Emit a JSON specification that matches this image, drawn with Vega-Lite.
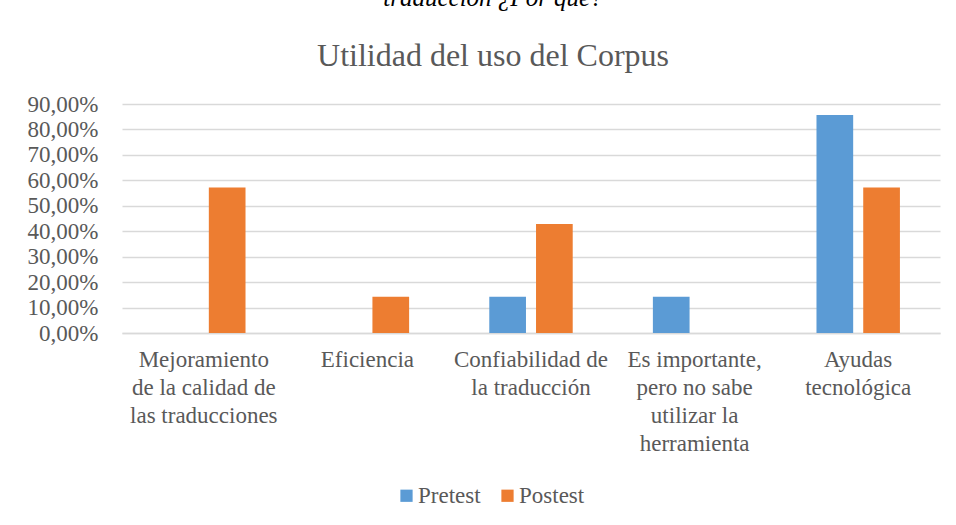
{
  "$schema": "https://vega.github.io/schema/vega-lite/v6.json",
  "width": 818,
  "height": 229,
  "autosize": {"type": "none"},
  "padding": {"left": 122, "top": 104, "right": 16, "bottom": 192},
  "background": "#ffffff",
  "title": {
    "text": "traducción ¿Por qué?",
    "subtitle": "Utilidad del uso del Corpus",
    "font": "Liberation Serif",
    "fontSize": 25,
    "fontStyle": "italic",
    "fontWeight": "normal",
    "color": "#000000",
    "subtitleFont": "Liberation Serif",
    "subtitleFontSize": 32,
    "subtitleColor": "#595959",
    "subtitlePadding": 30,
    "anchor": "middle",
    "frame": "group",
    "dx": -38,
    "offset": 21
  },
  "data": {
    "values": [
      {"categoria": "Mejoramiento de la calidad de las traducciones", "grupo": "Pretest", "valor": 0},
      {"categoria": "Mejoramiento de la calidad de las traducciones", "grupo": "Postest", "valor": 0.5714},
      {"categoria": "Eficiencia", "grupo": "Pretest", "valor": 0},
      {"categoria": "Eficiencia", "grupo": "Postest", "valor": 0.1429},
      {"categoria": "Confiabilidad de la traducción", "grupo": "Pretest", "valor": 0.1429},
      {"categoria": "Confiabilidad de la traducción", "grupo": "Postest", "valor": 0.4286},
      {"categoria": "Es importante, pero no sabe utilizar la herramienta", "grupo": "Pretest", "valor": 0.1429},
      {"categoria": "Es importante, pero no sabe utilizar la herramienta", "grupo": "Postest", "valor": 0},
      {"categoria": "Ayudas tecnológica", "grupo": "Pretest", "valor": 0.8571},
      {"categoria": "Ayudas tecnológica", "grupo": "Postest", "valor": 0.5714}
    ]
  },
  "mark": {"type": "bar"},
  "encoding": {
    "x": {
      "field": "categoria",
      "type": "nominal",
      "sort": null,
      "title": null,
      "scale": {"paddingInner": 0.49, "paddingOuter": 0.245},
      "axis": {
        "labelAngle": 0,
        "labelBaseline": "top",
        "labelPadding": 15,
        "labelLineHeight": 28,
        "labelLimit": 0,
        "ticks": false,
        "domainColor": "#D9D9D9",
        "domainWidth": 1.3,
        "labelExpr": "datum.value == 'Mejoramiento de la calidad de las traducciones' ? ['Mejoramiento', 'de la calidad de', 'las traducciones'] : datum.value == 'Confiabilidad de la traducción' ? ['Confiabilidad de', 'la traducción'] : datum.value == 'Es importante, pero no sabe utilizar la herramienta' ? ['Es importante,', 'pero no sabe', 'utilizar la', 'herramienta'] : datum.value == 'Ayudas tecnológica' ? ['Ayudas', 'tecnológica'] : datum.value"
      }
    },
    "xOffset": {
      "field": "grupo",
      "sort": ["Pretest", "Postest"],
      "scale": {"paddingInner": 0.215, "paddingOuter": 0}
    },
    "y": {
      "field": "valor",
      "type": "quantitative",
      "title": null,
      "scale": {"domain": [0, 0.9], "nice": false},
      "axis": {
        "values": [0, 0.1, 0.2, 0.3, 0.4, 0.5, 0.6, 0.7, 0.8, 0.9],
        "labelExpr": "replace(format(datum.value, '.2%'), '.', ',')",
        "domain": false,
        "ticks": false,
        "labelPadding": 24,
        "grid": true,
        "gridColor": "#D9D9D9",
        "gridWidth": 1.3
      }
    },
    "color": {
      "field": "grupo",
      "type": "nominal",
      "sort": ["Pretest", "Postest"],
      "scale": {"domain": ["Pretest", "Postest"], "range": ["#5B9BD5", "#ED7D31"]},
      "legend": {
        "title": null,
        "orient": "none",
        "direction": "horizontal",
        "legendX": 273,
        "legendY": 380,
        "padding": 0,
        "symbolType": "square",
        "symbolSize": 150,
        "symbolStrokeWidth": 0,
        "labelOffset": 0,
        "columnPadding": 15,
        "labelFontSize": 23,
        "labelFont": "Liberation Serif",
        "labelColor": "#595959"
      }
    }
  },
  "config": {
    "view": {"stroke": null},
    "axis": {
      "labelFont": "Liberation Serif",
      "labelFontSize": 23,
      "labelColor": "#595959"
    }
  }
}
